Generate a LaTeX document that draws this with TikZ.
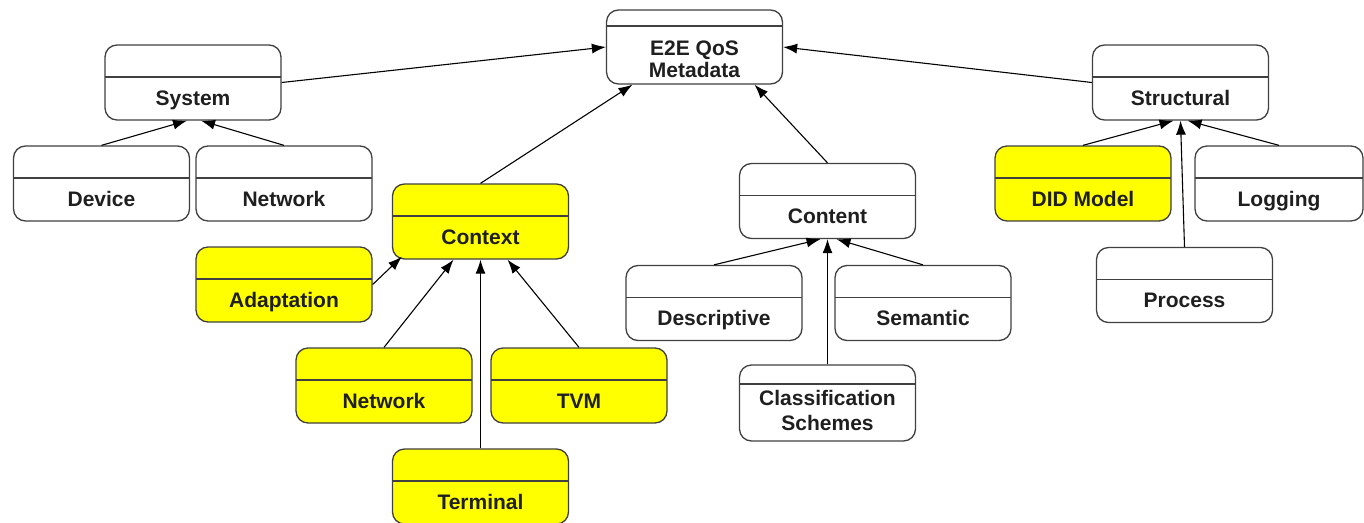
\documentclass[tikz,border=0pt]{standalone}
\usepackage{fontspec}
\setmainfont{Liberation Sans}
\usepackage{xcolor}
\usetikzlibrary{arrows.meta}
\definecolor{boxline}{HTML}{404040}
\definecolor{hilite}{HTML}{FFFF00}

\begin{document}
\begin{tikzpicture}[x=1pt,y=-1pt,
    cls/.style={draw=boxline,line width=1.3pt,rounded corners=12pt,fill=white,
      minimum width=176pt,minimum height=75pt,inner sep=0pt,
      text height=60pt,text depth=15pt,text=black!88,
      font=\bfseries\fontsize{21}{23.5}\selectfont,
      path picture={\draw[boxline,line width=1.3pt]
        ([yshift=-#1]path picture bounding box.north west) --
        ([yshift=-#1]path picture bounding box.north east);}},
    cls/.default=32pt,
    hot/.style={fill=hilite},
    isa/.style={-{Latex[length=14pt,width=10pt]},line width=1.1pt}]
            \useasboundingbox (0,0) rectangle (1364,522);

            % top
            \node[cls=16pt,minimum height=74pt,text height=45.5pt,text depth=28.5pt] (e2e) at (694.5,47)
                {\begin{tabular}[t]{@{}c@{}}E2E QoS\\[-1.5pt]Metadata\end{tabular}};

            % system branch
            \node[cls] (sys) at (193,82.5) {System};
            \node[cls] (dev) at (101.5,183.5) {Device};
            \node[cls] (sysnet) at (284,183.5) {Network};

            % context branch
            \node[cls,hot] (ctx) at (480.5,221.5) {Context};
            \node[cls,hot] (adapt) at (284,284.5) {Adaptation};
            \node[cls,hot] (ctxnet) at (384,385.5) {Network};
            \node[cls,hot] (tvm) at (579,385.5) {TVM};
            \node[cls,hot] (term) at (480.5,486.5) {Terminal};

            % content branch
            \node[cls] (cont) at (827.5,201) {Content};
            \node[cls] (desc) at (714,303) {Descriptive};
            \node[cls] (sem) at (923,303) {Semantic};
            \node[cls=19pt,minimum height=76pt,text height=40.5pt,text depth=35.5pt] (class) at (827.5,403)
                {\begin{tabular}[t]{@{}c@{}}Classification\\[1.5pt]Schemes\end{tabular}};

            % structural branch
            \node[cls] (struct) at (1180.5,82.5) {Structural};
            \node[cls,hot] (did) at (1083,183.5) {DID Model};
            \node[cls,minimum width=168pt] (log) at (1279,183.5) {Logging};
            \node[cls] (proc) at (1184.5,285) {Process};

            \draw[isa] (sys.east) -- (e2e.west);
            \draw[isa] (struct.west) -- (e2e.east);
            \draw[isa] (ctx.north) -- ([xshift=-62pt]e2e.south);
            \draw[isa] (cont.north) -- ([xshift=60pt]e2e.south);

            \draw[isa] (dev.north) -- ([xshift=-6pt]sys.south);
            \draw[isa] (sysnet.north) -- ([xshift=8pt]sys.south);

            \draw[isa] (adapt.east) -- ([xshift=10pt,yshift=3pt]ctx.south west);
            \draw[isa] (ctxnet.north) -- ([xshift=-27pt]ctx.south);
            \draw[isa] (term.north) -- (ctx.south);
            \draw[isa] (tvm.north) -- ([xshift=27pt]ctx.south);

            \draw[isa] (desc.north) -- ([xshift=-7pt]cont.south);
            \draw[isa] (class.north) -- (cont.south);
            \draw[isa] (sem.north) -- ([xshift=9pt]cont.south);

            \draw[isa] (did.north) -- ([xshift=-7pt]struct.south);
            \draw[isa] (proc.north) -- (struct.south);
            \draw[isa] (log.north) -- ([xshift=7pt]struct.south);
        \end{tikzpicture}
\end{document}
